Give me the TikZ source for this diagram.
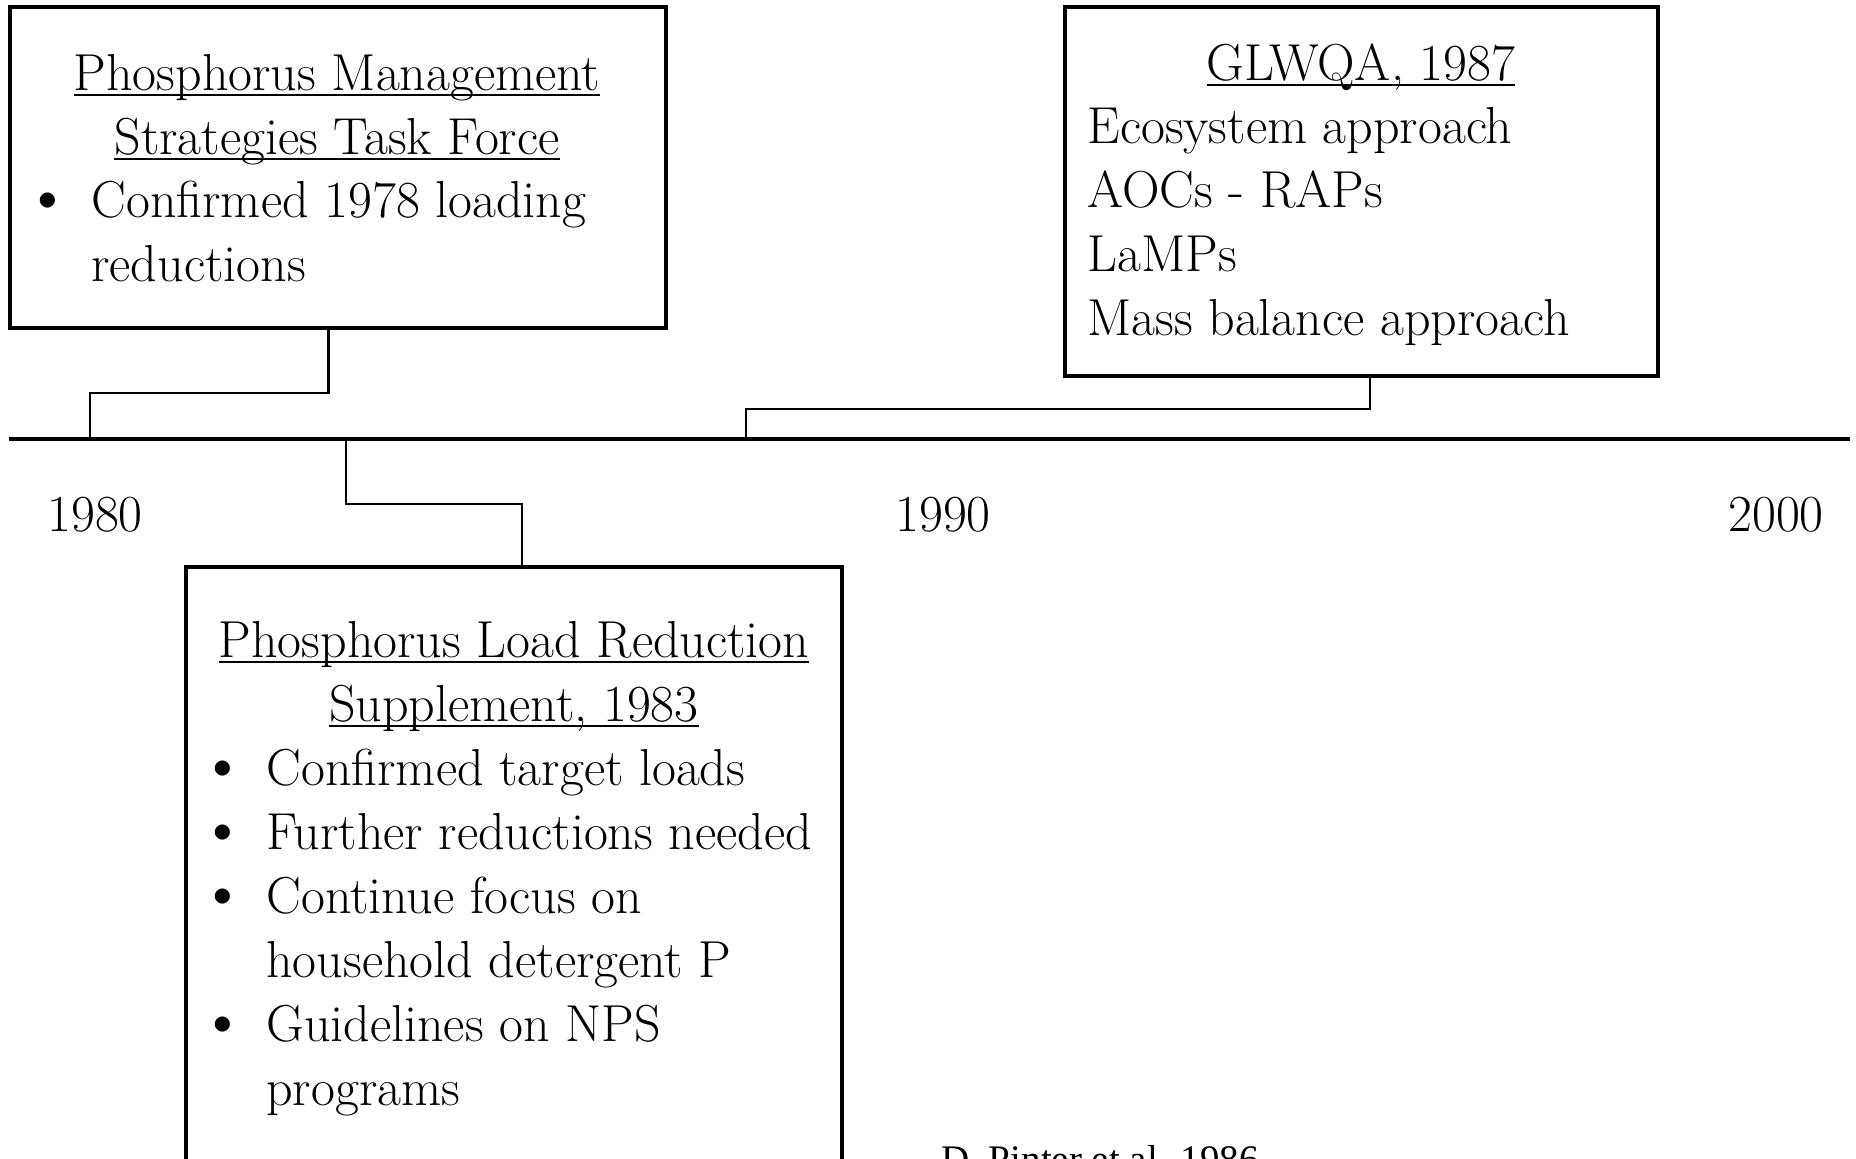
\documentclass[tikz,border=0pt]{standalone}
\usepackage{graphicx}
\usepackage{fontspec}
\newfontfamily\citefont{Liberation Serif}
\usetikzlibrary{positioning}

\newsavebox\ulbox
\newcommand{\ulin}[1]{\leavevmode\sbox\ulbox{#1}\rlap{\rule[-3pt]{\wd\ulbox}{0.9pt}}\usebox\ulbox}
\newcommand{\itm}[1]{\makebox[34pt][l]{\raisebox{-0.6pt}{\scalebox{1.3}{\textbullet}}}#1}
\newcommand{\cont}[1]{\hspace*{34pt}#1}

\begin{document}
\begin{tikzpicture}[x=0.5pt, y=-0.5pt,
		box/.style={draw, line width=2pt, inner sep=0pt},
		axis/.style={line width=2pt},
		link/.style={line width=1.4pt},
		txt/.style={inner sep=0pt, font=\fontsize{26}{32}\selectfont},
		head/.style={txt, anchor=base},
		body/.style={txt, anchor=base west},
		year/.style={txt, anchor=base}]
	\useasboundingbox (0,0) rectangle (1856,1158);

	% boxes
	\node[box, minimum width=328.25pt, minimum height=160.5pt] (pmstf) at (337.75,167.5) {};
	\node[box, minimum width=296.5pt, minimum height=184.5pt] (glwqa) at (1361.5,191.5) {};
	\node[box, minimum width=328pt, minimum height=306.5pt] (plrs) at (514,873.5) {};

	% texts
	\node[head] (pmstf-t) at (337,90) {\parbox[t]{320pt}{\centering
		\ulin{Phosphorus Management}\\ \ulin{Strategies Task Force}}};
	\node[body] (pmstf-b) at (23,217) {\parbox[t]{320pt}{%
		\itm{Confirmed 1978 loading}\\ \cont{reductions}}};

	\node[head] (glwqa-t) at (1361,80) {\ulin{GLWQA, 1987}};
	\node[body] (glwqa-b) at (1087,143) {\parbox[t]{290pt}{%
		Ecosystem approach\\ AOCs - RAPs\\ LaMPs\\ Mass balance approach}};

	\node[head] (plrs-t) at (514,657) {\parbox[t]{320pt}{\centering
		\ulin{Phosphorus Load Reduction}\\ \ulin{Supplement, 1983}}};
	\node[body] (plrs-b) at (198,785) {\parbox[t]{320pt}{%
		\itm{Confirmed target loads}\\ \itm{Further reductions needed}\\
		\itm{Continue focus on}\\ \cont{household detergent P}\\
		\itm{Guidelines on NPS}\\ \cont{programs}}};

	% time line
	\coordinate (tl) at (9,439);
	\coordinate (tr) at (1850,439);
	\coordinate (y1980) at (90,439);
	\coordinate (y1983) at (346,439);
	\coordinate (y1987) at (746,439);
	\draw[axis] (tl) -- (tr);

	\node[year] (l1980) at (95,531) {1980};
	\node[year] (l1990) at (943,531) {1990};
	\node[year] (l2000) at (1776,531) {2000};

	\draw[link] ([xshift=-4.5pt]pmstf.south) -- ++(0,63) -| (y1980);
	\draw[link] ([xshift=4.25pt]glwqa.south) -- ++(0,31) -| (y1987);
	\draw[link] (y1983) -- ++(0,65) -| ([xshift=4pt]plrs.north);

	\node[anchor=base, inner sep=0pt, font=\citefont\fontsize{19.5}{22}\selectfont] (src) at (1100,1172) {D. Pinter et al. 1986};
\end{tikzpicture}
\end{document}
